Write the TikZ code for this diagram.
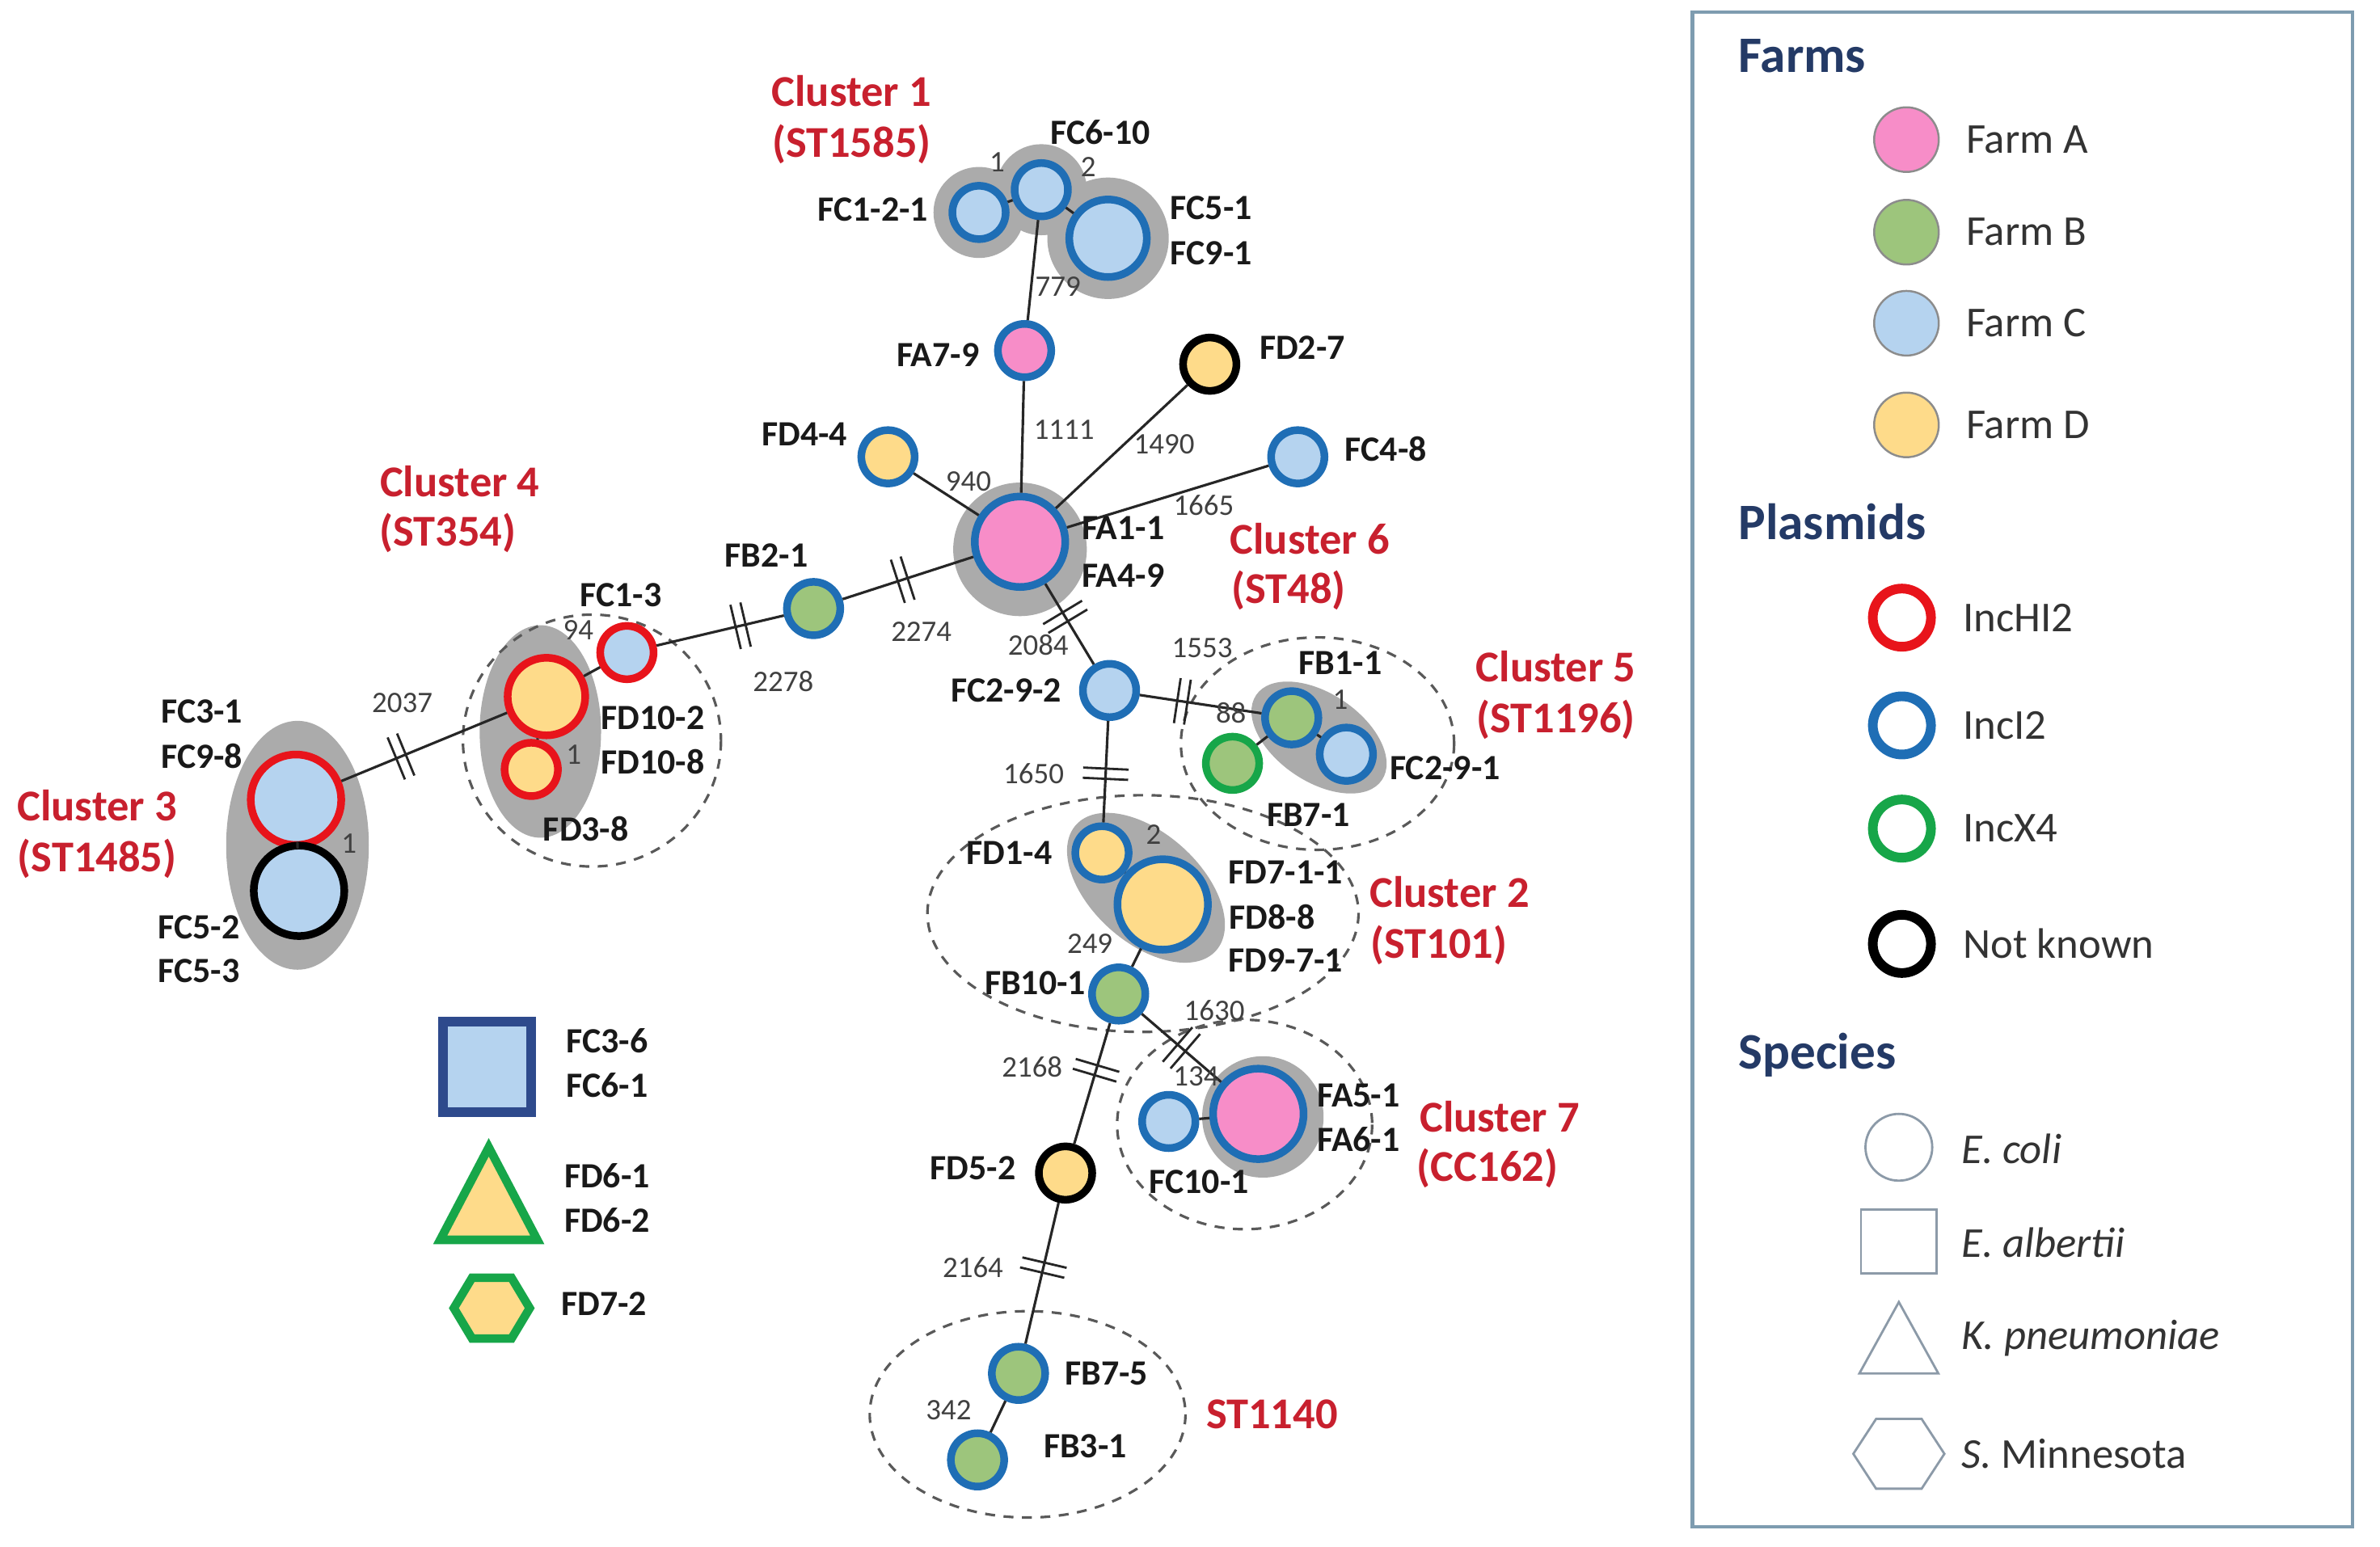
\documentclass[tikz,border=0pt]{standalone}
\usepackage{fontspec}
\setmainfont{Carlito}
\definecolor{colA}{HTML}{F78DC8}
\definecolor{colB}{HTML}{9DC57C}
\definecolor{colC}{HTML}{B5D3EF}
\definecolor{colD}{HTML}{FEDB8A}
\definecolor{ringI}{HTML}{1F6EB5}
\definecolor{ringHI}{HTML}{E8141B}
\definecolor{ringX}{HTML}{17A649}
\definecolor{haloGrey}{HTML}{ABABAB}
\definecolor{clusterRed}{HTML}{C8202E}
\definecolor{navy}{HTML}{243A66}
\definecolor{frameGrey}{HTML}{7E9CB0}
\definecolor{squareBlue}{HTML}{2E4A8C}
\definecolor{speciesGrey}{HTML}{8C9AA8}
\tikzset{
  sample/.style={circle, inner sep=0pt, line width=2.7pt, minimum size=0.66cm},
  mid/.style={minimum size=0.96cm},
  big/.style={minimum size=1.12cm},
  farmA/.style={fill=colA}, farmB/.style={fill=colB},
  farmC/.style={fill=colC}, farmD/.style={fill=colD},
  incHI/.style={draw=ringHI}, incI/.style={draw=ringI},
  incX/.style={draw=ringX}, unk/.style={draw=black},
  halo/.style={fill=haloGrey},
  clusterring/.style={draw=black!65, line width=0.9pt, dash pattern=on 3.5pt off 3pt},
  edge/.style={draw=black!85, line width=0.9pt},
  idlabel/.style={inner sep=0pt, text=black!90, font=\bfseries\fontsize{12.5}{13}\selectfont},
  snpnum/.style={inner sep=0pt, text=black!75, font=\fontsize{10.5}{11}\selectfont},
  clusterlab/.style={inner sep=0pt, text=clusterRed, font=\bfseries\fontsize{15.5}{16}\selectfont},
  heading/.style={inner sep=0pt, anchor=west, text=navy, font=\bfseries\fontsize{18}{19}\selectfont},
  legtext/.style={inner sep=0pt, anchor=west, text=black!80, font=\fontsize{15}{16}\selectfont},
  legdot/.style={circle, inner sep=0pt, minimum size=0.8cm, draw=black!45, line width=0.7pt},
  legring/.style={circle, inner sep=0pt, minimum size=0.72cm, line width=3.4pt},
  brk/.pic={\draw[line width=0.8pt] (-1.8pt,-8pt) -- (-1.8pt,8pt) (1.8pt,-8pt) -- (1.8pt,8pt);}
}
\begin{document}
\begin{tikzpicture}[x=0.018776cm, y=-0.018776cm]
\useasboundingbox (0,0) rectangle (1568,1019);

% grey groups
\fill[halo] (645,140) circle (30) (686,125) circle (30) (730,157) circle (40);
\fill[halo] (672,362) circle (44);
\fill[halo] (356,482) ellipse (40 and 70);
\fill[halo] (196,557) ellipse (47 and 82);
\fill[halo, rotate around={-34:(869,486)}] (869,486) ellipse (50 and 29);
\fill[halo, rotate around={-42:(755,585)}] (755,585) ellipse (62 and 36);
\fill[halo] (832,736) circle (40);

% dashed clusters
\draw[clusterring] (390,488) ellipse (85 and 83);
\draw[clusterring] (868,490) ellipse (90 and 70);
\draw[clusterring] (753,602) ellipse (142 and 78);
\draw[clusterring] (820,741) ellipse (84 and 69);
\draw[clusterring] (677,932) ellipse (104 and 68);

% isolates
\node[sample, farmC, incI] (FC121) at (645,140) {};
\node[sample, farmC, incI] (FC610) at (686,125) {};
\node[sample, mid, farmC, incI] (FC51) at (730,157) {};
\node[sample, farmA, incI] (FA79) at (675,231) {};
\node[sample, big, farmA, incI] (FA11) at (672,357) {};
\node[sample, farmD, unk] (FD27) at (797,240) {};
\node[sample, farmD, incI] (FD44) at (585,301) {};
\node[sample, farmC, incI] (FC48) at (855,301) {};
\node[sample, farmB, incI] (FB21) at (536,401) {};
\node[sample, farmC, incHI] (FC13) at (413,430) {};
\node[sample, mid, farmD, incHI] (FD102) at (360,459) {};
\node[sample, farmD, incHI] (FD38) at (350,507) {};
\node[sample, big, farmC, incHI] (FC31) at (195,527) {};
\node[sample, big, farmC, unk] (FC52) at (197,587) {};
\node[sample, farmC, incI] (FC292) at (731,455) {};
\node[sample, farmB, incI] (FB11) at (851,473) {};
\node[sample, farmC, incI] (FC291) at (887,497) {};
\node[sample, farmB, incX] (FB71) at (812,503) {};
\node[sample, farmD, incI] (FD14) at (726,562) {};
\node[sample, big, farmD, incI] (FD711) at (766,596) {};
\node[sample, farmB, incI] (FB101) at (737,655) {};
\node[sample, farmC, incI] (FC101) at (770,739) {};
\node[sample, big, farmA, incI] (FA51) at (829,734) {};
\node[sample, farmD, unk] (FD52) at (702,773) {};
\node[sample, farmB, incI] (FB75) at (671,905) {};
\node[sample, farmB, incI] (FB31) at (644,962) {};

% links
\draw[edge] (FC121) -- (FC610);
\draw[edge] (FC610) -- (FC51);
\draw[edge] (FC610) -- (FA79);
\draw[edge] (FA79) -- (FA11);
\draw[edge] (FD27) -- (FA11);
\draw[edge] (FD44) -- (FA11);
\draw[edge] (FC48) -- (FA11);
\draw[edge] (FA11) -- pic[pos=0.54, sloped]{brk} (FB21);
\draw[edge] (FB21) -- pic[pos=0.34, sloped]{brk} (FC13);
\draw[edge] (FC13) -- (FD102);
\draw[edge] (FD102) -- (FD38);
\draw[edge] (FD102) -- pic[pos=0.64, sloped]{brk} (FC31);
\draw[edge] (FC31) -- (FC52);
\draw[edge] (FA11) -- pic[pos=0.41, sloped]{brk} (FC292);
\draw[edge] (FC292) -- pic[pos=0.35, sloped]{brk} (FB11);
\draw[edge] (FB11) -- (FB71);
\draw[edge] (FB11) -- (FC291);
\draw[edge] (FC292) -- pic[pos=0.52, sloped]{brk} (FD14);
\draw[edge] (FD14) -- (FD711);
\draw[edge] (FD711) -- (FB101);
\draw[edge] (FB101) -- pic[pos=0.5, sloped]{brk} (FA51);
\draw[edge] (FC101) -- (FA51);
\draw[edge] (FB101) -- pic[pos=0.39, sloped]{brk} (FD52);
\draw[edge] (FD52) -- pic[pos=0.46, sloped]{brk} (FB75);
\draw[edge] (FB75) -- (FB31);

% allele differences
\node[snpnum] (d1) at (657,107) {1};
\node[snpnum] (d2) at (717,110) {2};
\node[snpnum] (d779) at (697,189) {779};
\node[snpnum] (d1111) at (701,283) {1111};
\node[snpnum] (d1490) at (767,293) {1490};
\node[snpnum] (d940) at (638,317) {940};
\node[snpnum] (d1665) at (793,333) {1665};
\node[snpnum] (d2274) at (607,416) {2274};
\node[snpnum] (d2278) at (516,449) {2278};
\node[snpnum] (d94) at (381,415) {94};
\node[snpnum] (d2037) at (265,463) {2037};
\node[snpnum] (d1b) at (378,497) {1};
\node[snpnum] (d1c) at (230,556) {1};
\node[snpnum] (d2084) at (684,425) {2084};
\node[snpnum] (d1553) at (792,427) {1553};
\node[snpnum] (d88) at (811,470) {88};
\node[snpnum] (d1d) at (883,461) {1};
\node[snpnum] (d1650) at (681,510) {1650};
\node[snpnum] (d2b) at (760,550) {2};
\node[snpnum] (d249) at (718,622) {249};
\node[snpnum] (d1630) at (800,666) {1630};
\node[snpnum] (d134) at (788,709) {134};
\node[snpnum] (d2168) at (680,703) {2168};
\node[snpnum] (d2164) at (641,835) {2164};
\node[snpnum] (d342) at (625,929) {342};

% isolate names
\node[idlabel] (tFC121) at (575,138) {FC1-2-1};
\node[idlabel] (tFC610) at (725,87) {FC6-10};
\node[idlabel] (tFC51) at (798,137) {FC5-1};
\node[idlabel] (tFC91) at (798,167) {FC9-1};
\node[idlabel] (tFA79) at (618,234) {FA7-9};
\node[idlabel] (tFD27) at (858,229) {FD2-7};
\node[idlabel] (tFD44) at (530,286) {FD4-4};
\node[idlabel] (tFC48) at (913,296) {FC4-8};
\node[idlabel] (tFA11) at (740,348) {FA1-1};
\node[idlabel] (tFA49) at (740,379) {FA4-9};
\node[idlabel] (tFB21) at (505,366) {FB2-1};
\node[idlabel] (tFC13) at (409,392) {FC1-3};
\node[idlabel] (tFD102) at (430,473) {FD10-2};
\node[idlabel] (tFD108) at (430,502) {FD10-8};
\node[idlabel] (tFD38) at (386,546) {FD3-8};
\node[idlabel] (tFC31) at (133,469) {FC3-1};
\node[idlabel] (tFC98) at (133,498) {FC9-8};
\node[idlabel] (tFC52) at (131,611) {FC5-2};
\node[idlabel] (tFC53) at (131,640) {FC5-3};
\node[idlabel] (tFC292) at (663,455) {FC2-9-2};
\node[idlabel] (tFB11) at (883,437) {FB1-1};
\node[idlabel] (tFC291) at (952,506) {FC2-9-1};
\node[idlabel] (tFB71) at (862,537) {FB7-1};
\node[idlabel] (tFD14) at (665,562) {FD1-4};
\node[idlabel] (tFD711) at (847,575) {FD7-1-1};
\node[idlabel] (tFD88) at (838,604) {FD8-8};
\node[idlabel] (tFD971) at (847,633) {FD9-7-1};
\node[idlabel] (tFB101) at (682,648) {FB10-1};
\node[idlabel] (tFA51) at (895,722) {FA5-1};
\node[idlabel] (tFA61) at (895,751) {FA6-1};
\node[idlabel] (tFC101) at (790,779) {FC10-1};
\node[idlabel] (tFD52) at (641,770) {FD5-2};
\node[idlabel] (tFB75) at (729,905) {FB7-5};
\node[idlabel] (tFB31) at (715,953) {FB3-1};

% cluster names
\node[clusterlab] (c1a) at (561,60) {Cluster 1};
\node[clusterlab] (c1b) at (561,95) {(ST1585)};
\node[clusterlab] (c4a) at (303,317) {Cluster 4};
\node[clusterlab] (c4b) at (295,351) {(ST354)};
\node[clusterlab] (c3a) at (64,531) {Cluster 3};
\node[clusterlab] (c3b) at (64,566) {(ST1485)};
\node[clusterlab] (c6a) at (863,355) {Cluster 6};
\node[clusterlab] (c6b) at (849,389) {(ST48)};
\node[clusterlab] (c5a) at (1025,439) {Cluster 5};
\node[clusterlab] (c5b) at (1025,474) {(ST1196)};
\node[clusterlab] (c2a) at (955,588) {Cluster 2};
\node[clusterlab] (c2b) at (948,623) {(ST101)};
\node[clusterlab] (c7a) at (988,736) {Cluster 7};
\node[clusterlab] (c7b) at (980,770) {(CC162)};
\node[clusterlab] (c8) at (838,932) {ST1140};

% other species
\filldraw[fill=colC, draw=squareBlue, line width=3.4pt] (292,673) rectangle (350,733);
\filldraw[fill=colD, draw=ringX, line width=3pt, line join=miter] (322,756) -- (354,817) -- (290,817) -- cycle;
\filldraw[fill=colD, draw=ringX, line width=3pt] (299,862) -- (311,842) -- (337,842) -- (349,862) -- (337,882) -- (311,882) -- cycle;
\node[idlabel] (tFC36) at (400,686) {FC3-6};
\node[idlabel] (tFC61) at (400,715) {FC6-1};
\node[idlabel] (tFD61) at (400,775) {FD6-1};
\node[idlabel] (tFD62) at (400,804) {FD6-2};
\node[idlabel] (tFD72) at (398,859) {FD7-2};

% legend
\draw[frameGrey, line width=1.2pt] (1115,8) rectangle (1550,1006);
\node[heading] (hFarms) at (1145,37) {Farms};
\foreach \y/\c/\k in {92/colA/A, 153/colB/B, 213/colC/C, 280/colD/D} {
  \node[legdot, fill=\c] (dot\k) at (1256,\y) {};
  \node[legtext] (txt\k) at (1295,\y) {Farm \k};
}
\node[heading] (hPlasmids) at (1145,344) {Plasmids};
\foreach \y/\c/\k/\t in {407/ringHI/HI/IncHI2, 478/ringI/I/IncI2, 546/ringX/X/IncX4, 622/black/NK/Not known} {
  \node[legring, draw=\c] (ring\k) at (1253,\y) {};
  \node[legtext] (rtxt\k) at (1293,\y) {\t};
}
\node[heading] (hSpecies) at (1145,695) {Species};
\draw[speciesGrey, line width=0.8pt] (1251,756) circle (22);
\draw[speciesGrey, line width=0.8pt] (1226,797) rectangle (1276,839);
\draw[speciesGrey, line width=0.8pt] (1251,858) -- (1277,905) -- (1225,905) -- cycle;
\draw[speciesGrey, line width=0.8pt] (1221,958) -- (1236,935) -- (1266,935) -- (1281,958) -- (1266,981) -- (1236,981) -- cycle;
\node[legtext] (sEc) at (1292,757) {\itshape E. coli};
\node[legtext] (sEa) at (1292,819) {\itshape E. albertii};
\node[legtext] (sKp) at (1292,882) {\itshape K. pneumoniae};
\node[legtext] (sSm) at (1292,958) {\itshape S.\upshape\ Minnesota};
\end{tikzpicture}
\end{document}
